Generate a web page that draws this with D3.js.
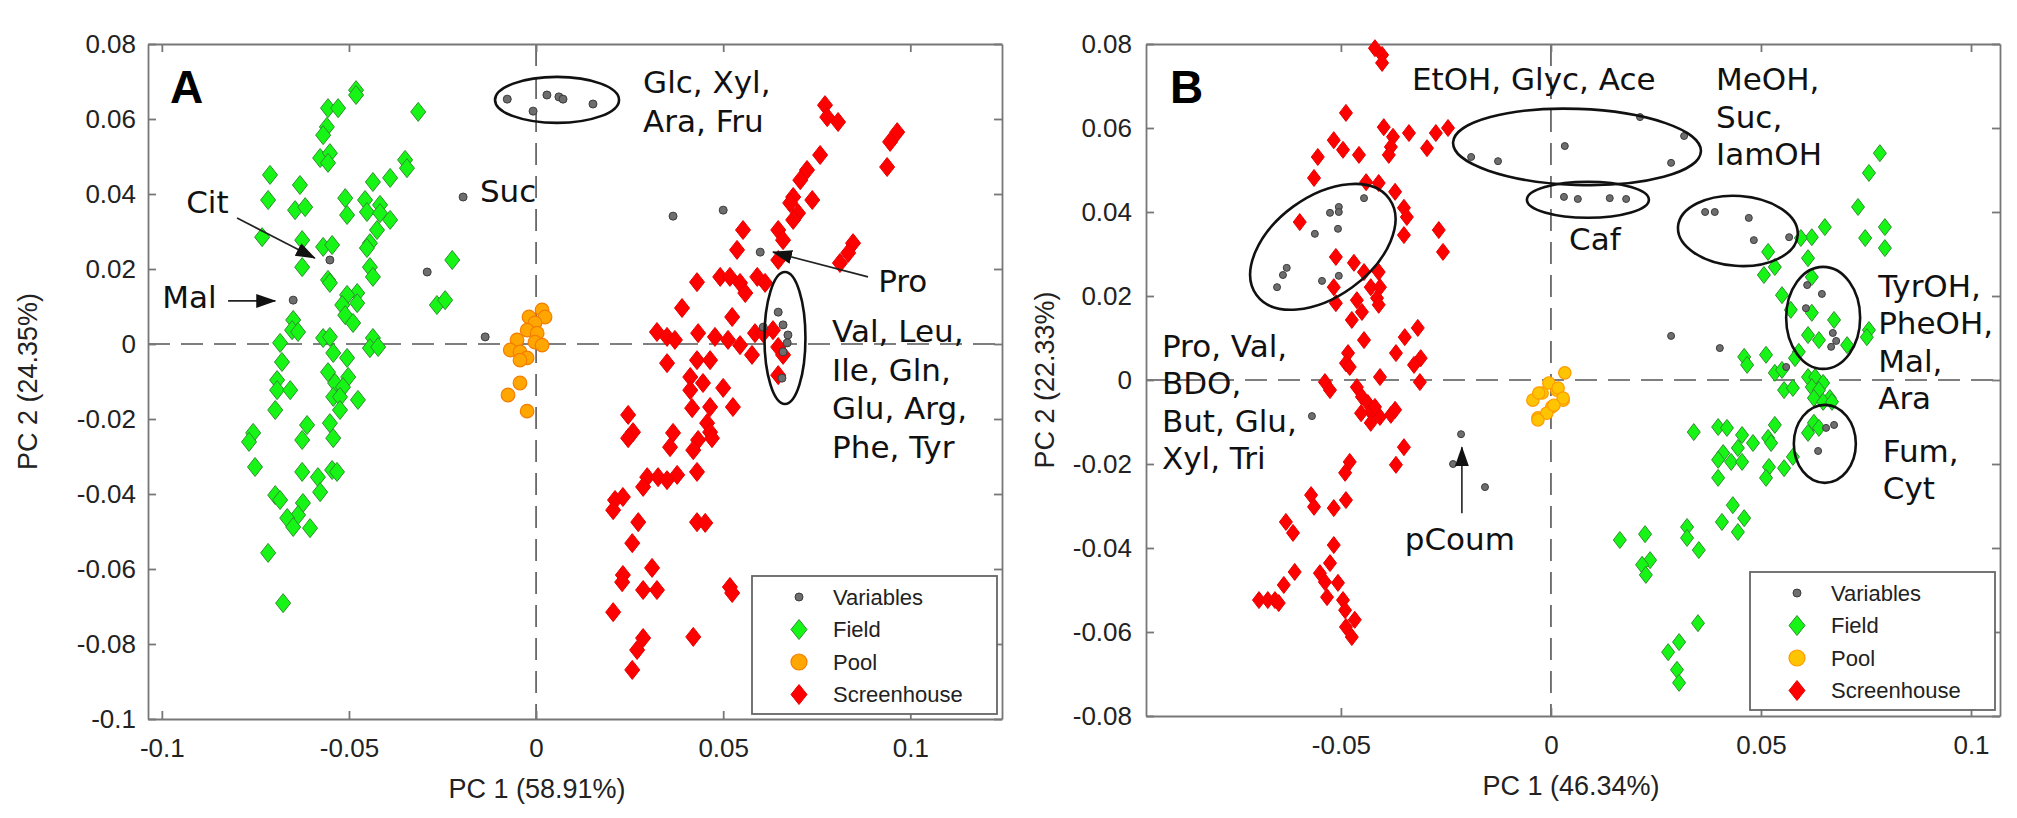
<!DOCTYPE html>
<html lang="en">
<head>
	<meta charset="UTF-8">
	<title>PCA score/loading plots</title>
	<script src="https://cdn.jsdelivr.net/npm/d3@7/dist/d3.min.js"></script>
	<style>
		body {
			margin: 0;
			background: #fff;
		}
		svg {
			display: block;
			width: 2017px;
			height: 818px;
		}
	</style>
</head>
<body>
<svg></svg>
<script>
	// ---- panel A data (PC1, PC2) ----
	var aVariables = [[-0.0551,0.0224],[-0.0649,0.0117],[-0.0291,0.0192],[-0.0195,0.0392],[-0.0136,0.0019],[-0.0077,0.0653],[-0.0008,0.0621],[0.0029,0.0664],[0.0061,0.0659],[0.0072,0.0653],[0.0152,0.0640],[0.0366,0.0341],[0.0500,0.0357],[0.0599,0.0245],[0.0647,0.0085],[0.0660,0.0051],[0.0673,0.0024],[0.0671,0.0003],[0.0607,0.0045],[0.0657,-0.0091],[0.0660,-0.0021]];
	var aField = [[-0.0481,0.0677],[-0.0481,0.0664],[-0.0556,0.0629],[-0.0529,0.0629],[-0.0315,0.0619],[-0.0559,0.0579],[-0.0569,0.0557],[-0.0577,0.0496],[-0.0551,0.0509],[-0.0556,0.0483],[-0.0711,0.0451],[-0.0350,0.0491],[-0.0345,0.0469],[-0.0631,0.0424],[-0.0390,0.0443],[-0.0436,0.0432],[-0.0716,0.0384],[-0.0644,0.0357],[-0.0617,0.0365],[-0.0510,0.0389],[-0.0505,0.0344],[-0.0457,0.0384],[-0.0452,0.0352],[-0.0417,0.0371],[-0.0417,0.0349],[-0.0390,0.0331],[-0.0732,0.0285],[-0.0625,0.0277],[-0.0569,0.0259],[-0.0545,0.0264],[-0.0425,0.0304],[-0.0444,0.0269],[-0.0452,0.0256],[-0.0625,0.0205],[-0.0444,0.0205],[-0.0436,0.0179],[-0.0224,0.0224],[-0.0556,0.0171],[-0.0551,0.0163],[-0.0265,0.0104],[-0.0243,0.0117],[-0.0478,0.0136],[-0.0505,0.0131],[-0.0518,0.0104],[-0.0478,0.0109],[-0.0510,0.0077],[-0.0489,0.0056],[-0.0649,0.0064],[-0.0652,0.0037],[-0.0636,0.0032],[-0.0569,0.0016],[-0.0551,0.0019],[-0.0436,0.0016],[-0.0444,-0.0011],[-0.0422,-0.0008],[-0.0684,0.0003],[-0.0542,-0.0024],[-0.0505,-0.0037],[-0.0679,-0.0048],[-0.0556,-0.0075],[-0.0502,-0.0088],[-0.0537,-0.0104],[-0.0516,-0.0115],[-0.0542,-0.0141],[-0.0524,-0.0141],[-0.0692,-0.0096],[-0.0692,-0.0123],[-0.0657,-0.0123],[-0.0476,-0.0149],[-0.0697,-0.0176],[-0.0524,-0.0176],[-0.0756,-0.0237],[-0.0767,-0.0261],[-0.0612,-0.0216],[-0.0625,-0.0256],[-0.0551,-0.0211],[-0.0542,-0.0251],[-0.0751,-0.0328],[-0.0625,-0.0341],[-0.0583,-0.0355],[-0.0577,-0.0395],[-0.0545,-0.0336],[-0.0532,-0.0341],[-0.0697,-0.0403],[-0.0684,-0.0416],[-0.0623,-0.0424],[-0.0636,-0.0456],[-0.0665,-0.0464],[-0.0649,-0.0488],[-0.0604,-0.0491],[-0.0716,-0.0557],[-0.0676,-0.0691]];
	var aPool = [[0.0016,0.0091],[-0.0019,0.0072],[0.0024,0.0072],[-0.0003,0.0056],[-0.0024,0.0037],[0.0003,0.0029],[-0.0051,0.0011],[-0.0003,0.0005],[0.0016,-0.0003],[-0.0069,-0.0016],[-0.0043,-0.0021],[-0.0024,-0.0037],[-0.0043,-0.0043],[-0.0043,-0.0104],[-0.0075,-0.0136],[-0.0024,-0.0179]];
	var aScreenhouse = [[0.0772,0.0637],[0.0778,0.0605],[0.0807,0.0592],[0.0965,0.0565],[0.0946,0.0539],[0.0938,0.0472],[0.0759,0.0504],[0.0724,0.0464],[0.0706,0.0437],[0.0687,0.0392],[0.0679,0.0376],[0.0738,0.0384],[0.0700,0.0349],[0.0687,0.0331],[0.0647,0.0304],[0.0660,0.0277],[0.0647,0.0224],[0.0553,0.0304],[0.0537,0.0251],[0.0847,0.0269],[0.0834,0.0243],[0.0812,0.0216],[0.0430,0.0165],[0.0492,0.0179],[0.0518,0.0179],[0.0545,0.0163],[0.0591,0.0179],[0.0612,0.0163],[0.0559,0.0136],[0.0390,0.0096],[0.0524,0.0072],[0.0323,0.0032],[0.0350,0.0019],[0.0371,0.0011],[0.0433,0.0029],[0.0478,0.0019],[0.0513,0.0011],[0.0545,-0.0003],[0.0585,0.0029],[0.0607,0.0029],[0.0647,-0.0008],[0.0660,-0.0029],[0.0577,-0.0029],[0.0633,0.0037],[0.0350,-0.0051],[0.0430,-0.0043],[0.0465,-0.0043],[0.0647,-0.0083],[0.0412,-0.0088],[0.0446,-0.0104],[0.0412,-0.0123],[0.0500,-0.0117],[0.0246,-0.0189],[0.0417,-0.0171],[0.0465,-0.0168],[0.0526,-0.0168],[0.0259,-0.0235],[0.0246,-0.0251],[0.0457,-0.0211],[0.0465,-0.0235],[0.0433,-0.0256],[0.0420,-0.0283],[0.0470,-0.0251],[0.0366,-0.0237],[0.0358,-0.0275],[0.0430,-0.0341],[0.0297,-0.0355],[0.0326,-0.0355],[0.0350,-0.0363],[0.0377,-0.0349],[0.0286,-0.0381],[0.0211,-0.0416],[0.0232,-0.0408],[0.0206,-0.0443],[0.0273,-0.0475],[0.0430,-0.0475],[0.0452,-0.0477],[0.0257,-0.0531],[0.0232,-0.0616],[0.0230,-0.0635],[0.0310,-0.0597],[0.0286,-0.0656],[0.0323,-0.0656],[0.0518,-0.0648],[0.0524,-0.0664],[0.0206,-0.0715],[0.0286,-0.0784],[0.0270,-0.0816],[0.0257,-0.0869],[0.0420,-0.0781]];

	// ---- panel B data (PC1, PC2) ----
	var bVariables = [[-0.0652,0.0221],[-0.0638,0.0250],[-0.0629,0.0267],[-0.0562,0.0348],[-0.0545,0.0236],[-0.0526,0.0398],[-0.0505,0.0412],[-0.0505,0.0400],[-0.0507,0.0360],[-0.0505,0.0248],[-0.0445,0.0433],[-0.0569,-0.0086],[-0.0214,-0.0129],[-0.0233,-0.0200],[-0.0157,-0.0255],[-0.0190,0.0531],[-0.0126,0.0521],[0.0033,0.0557],[0.0212,0.0626],[0.0317,0.0581],[0.0286,0.0517],[0.0031,0.0436],[0.0064,0.0431],[0.0140,0.0433],[0.0179,0.0431],[0.0367,0.0400],[0.0390,0.0400],[0.0471,0.0386],[0.0483,0.0333],[0.0567,0.0340],[0.0610,0.0226],[0.0645,0.0205],[0.0607,0.0171],[0.0671,0.0112],[0.0679,0.0093],[0.0667,0.0079],[0.0560,0.0031],[0.0286,0.0105],[0.0402,0.0076],[0.0674,-0.0107],[0.0655,-0.0114],[0.0636,-0.0169]];
	var bField = [[0.0783,0.0540],[0.0757,0.0493],[0.0731,0.0412],[0.0795,0.0364],[0.0748,0.0338],[0.0795,0.0314],[0.0652,0.0364],[0.0621,0.0340],[0.0595,0.0338],[0.0612,0.0290],[0.0517,0.0305],[0.0533,0.0269],[0.0507,0.0250],[0.0621,0.0245],[0.0550,0.0202],[0.0571,0.0167],[0.0621,0.0160],[0.0674,0.0143],[0.0757,0.0119],[0.0752,0.0102],[0.0612,0.0107],[0.0638,0.0095],[0.0705,0.0083],[0.0590,0.0067],[0.0581,0.0052],[0.0460,0.0055],[0.0467,0.0036],[0.0512,0.0060],[0.0533,0.0017],[0.0550,0.0024],[0.0612,0.0007],[0.0629,0.0007],[0.0648,-0.0007],[0.0621,-0.0017],[0.0638,-0.0024],[0.0664,-0.0043],[0.0626,-0.0043],[0.0555,-0.0024],[0.0576,-0.0019],[0.0648,-0.0052],[0.0669,-0.0052],[0.0626,-0.0102],[0.0638,-0.0114],[0.0612,-0.0126],[0.0533,-0.0107],[0.0517,-0.0138],[0.0524,-0.0150],[0.0481,-0.0150],[0.0455,-0.0131],[0.0398,-0.0112],[0.0419,-0.0114],[0.0340,-0.0124],[0.0410,-0.0174],[0.0445,-0.0162],[0.0398,-0.0190],[0.0429,-0.0195],[0.0455,-0.0195],[0.0519,-0.0207],[0.0555,-0.0210],[0.0576,-0.0183],[0.0512,-0.0233],[0.0398,-0.0233],[0.0433,-0.0298],[0.0407,-0.0338],[0.0460,-0.0329],[0.0445,-0.0362],[0.0324,-0.0350],[0.0324,-0.0376],[0.0352,-0.0405],[0.0164,-0.0381],[0.0224,-0.0367],[0.0236,-0.0429],[0.0217,-0.0440],[0.0226,-0.0464],[0.0350,-0.0579],[0.0305,-0.0624],[0.0279,-0.0648],[0.0300,-0.0690],[0.0305,-0.0721]];
	var bPool = [[-0.0021,-0.0031],[0.0014,-0.0024],[0.0029,-0.0048],[0.0002,-0.0064],[-0.0031,-0.0090],[-0.0010,-0.0079],[-0.0043,-0.0048],[0.0033,0.0017],[-0.0005,-0.0007],[0.0017,-0.0019],[-0.0029,-0.0031],[0.0029,-0.0043],[0.0007,-0.0060],[-0.0031,-0.0095]];
	var bScreenhouse = [[-0.0419,0.0790],[-0.0402,0.0774],[-0.0402,0.0755],[-0.0488,0.0636],[-0.0398,0.0602],[-0.0376,0.0579],[-0.0381,0.0555],[-0.0386,0.0536],[-0.0338,0.0588],[-0.0274,0.0588],[-0.0245,0.0600],[-0.0295,0.0552],[-0.0517,0.0571],[-0.0495,0.0548],[-0.0457,0.0536],[-0.0555,0.0531],[-0.0564,0.0481],[-0.0440,0.0471],[-0.0410,0.0469],[-0.0371,0.0448],[-0.0350,0.0410],[-0.0343,0.0388],[-0.0350,0.0345],[-0.0598,0.0376],[-0.0267,0.0357],[-0.0257,0.0305],[-0.0512,0.0293],[-0.0469,0.0279],[-0.0445,0.0257],[-0.0410,0.0257],[-0.0429,0.0221],[-0.0407,0.0221],[-0.0414,0.0195],[-0.0410,0.0179],[-0.0517,0.0221],[-0.0512,0.0183],[-0.0462,0.0190],[-0.0450,0.0162],[-0.0474,0.0143],[-0.0445,0.0095],[-0.0317,0.0124],[-0.0348,0.0102],[-0.0369,0.0064],[-0.0310,0.0052],[-0.0326,0.0036],[-0.0312,-0.0005],[-0.0483,0.0064],[-0.0488,0.0040],[-0.0479,0.0031],[-0.0407,0.0007],[-0.0538,-0.0005],[-0.0526,-0.0024],[-0.0462,-0.0017],[-0.0450,-0.0040],[-0.0436,-0.0055],[-0.0429,-0.0076],[-0.0452,-0.0079],[-0.0419,-0.0064],[-0.0429,-0.0102],[-0.0407,-0.0088],[-0.0381,-0.0083],[-0.0371,-0.0071],[-0.0350,-0.0160],[-0.0369,-0.0202],[-0.0479,-0.0195],[-0.0490,-0.0221],[-0.0571,-0.0274],[-0.0564,-0.0302],[-0.0517,-0.0305],[-0.0488,-0.0286],[-0.0631,-0.0338],[-0.0614,-0.0364],[-0.0517,-0.0393],[-0.0526,-0.0436],[-0.0550,-0.0460],[-0.0538,-0.0481],[-0.0533,-0.0517],[-0.0507,-0.0483],[-0.0495,-0.0524],[-0.0490,-0.0548],[-0.0467,-0.0571],[-0.0488,-0.0588],[-0.0474,-0.0612],[-0.0610,-0.0457],[-0.0636,-0.0488],[-0.0695,-0.0524],[-0.0674,-0.0524],[-0.0657,-0.0524],[-0.0648,-0.0531]];

	// ---- ticks, titles, legend ----
	var aXTicks = [-0.1, -0.05, 0, 0.05, 0.1];
	var aYTicks = [-0.1, -0.08, -0.06, -0.04, -0.02, 0, 0.02, 0.04, 0.06, 0.08];
	var bXTicks = [-0.05, 0, 0.05, 0.1];
	var bYTicks = [-0.08, -0.06, -0.04, -0.02, 0, 0.02, 0.04, 0.06, 0.08];
	var aXTitle = "PC 1 (58.91%)", aYTitle = "PC 2 (24.35%)";
	var bXTitle = "PC 1 (46.34%)", bYTitle = "PC 2 (22.33%)";
	var legendNames = ["Variables", "Field", "Pool", "Screenhouse"];

	// ---- annotations: anchor in data units, text lines ----
	var aLabels = [
		{at: [0.0286, 0.0669], lines: ["Glc, Xyl,", "Ara, Fru"]},
		{at: [-0.0150, 0.0379], lines: ["Suc"]},
		{at: [-0.0935, 0.0349], lines: ["Cit"]},
		{at: [-0.0999, 0.0096], lines: ["Mal"]},
		{at: [0.0914, 0.0139], lines: ["Pro"]},
		{at: [0.0791, 0.0005], lines: ["Val, Leu,", "Ile, Gln,", "Glu, Arg,", "Phe, Tyr"]}
	];
	var aCircles = [[0.0056, 0.0651], [0.0665, 0.0016]];
	var aArrows = [[[-0.0799, 0.0336], [-0.0591, 0.0229]], [[-0.0823, 0.0115], [-0.0697, 0.0115]], [[0.0887, 0.0179], [0.0633, 0.0245]]];

	var bLabels = [
		{at: [-0.0331, 0.0690], lines: ["EtOH, Glyc, Ace"]},
		{at: [0.0393, 0.0690], lines: ["MeOH,", "Suc,", "IamOH"]},
		{at: [0.0043, 0.0310], lines: ["Caf"]},
		{at: [-0.0926, 0.0055], lines: ["Pro, Val,", "BDO,", "But, Glu,", "Xyl, Tri"]},
		{at: [-0.0217, -0.0405], lines: ["pCoum"], mid: true},
		{at: [0.0779, 0.0198], lines: ["TyrOH,", "PheOH,", "Mal,", "Ara"]},
		{at: [0.0790, -0.0195], lines: ["Fum,", "Cyt"]}
	];
	var bCircles = [[-0.0543, 0.0317], [0.0062, 0.0555], [0.0088, 0.0429], [0.0445, 0.0355], [0.0648, 0.0148], [0.0652, -0.0152]];
	var bArrows = [[[-0.0212, -0.0317], [-0.0212, -0.0160]]];

	var svg = d3.select("svg");
	var defs = svg.append("defs");
	defs.append("marker").attr("id", "head")
		.attr("markerUnits", "userSpaceOnUse")
		.attr("markerWidth", 20).attr("markerHeight", 16)
		.attr("refX", 19).attr("refY", 8).attr("orient", "auto")
		.append("path").attr("d", "M0,1L20,8L0,15Z").attr("fill", "#111");

	function diamond(w, h) {
		return "M0," + (-h) + "L" + w + ",0L0," + h + "L" + (-w) + ",0Z";
	}
	function fmt(d) {
		return d === 0 ? "0" : String(+d.toFixed(2));
	}

	var sans = "'Liberation Sans', Arial, sans-serif";
	var verd = "'DejaVu Sans', Verdana, sans-serif";

	function drawPanel(p) {
		var x = d3.scaleLinear().domain(p.xDomain).range([p.left, p.right]);
		var y = d3.scaleLinear().domain(p.yDomain).range([p.bottom, p.top]);
		var g = svg.append("g");

		// dashed zero lines
		g.append("line").attr("x1", x(0)).attr("x2", x(0)).attr("y1", p.top).attr("y2", p.bottom)
			.attr("stroke", "#555").attr("stroke-width", 1.6).attr("stroke-dasharray", "22,11");
		g.append("line").attr("x1", p.left).attr("x2", p.right).attr("y1", y(0)).attr("y2", y(0))
			.attr("stroke", "#555").attr("stroke-width", 1.6).attr("stroke-dasharray", "22,11");

		// axes, ticks inward on all four sides
		var axes = [
			[d3.axisBottom(x).tickValues(p.xTicks).tickPadding(20).tickFormat(fmt), "translate(0," + p.bottom + ")"],
			[d3.axisTop(x).tickValues(p.xTicks).tickFormat(""), "translate(0," + p.top + ")"],
			[d3.axisLeft(y).tickValues(p.yTicks).tickPadding(p.yPad).tickFormat(fmt), "translate(" + p.left + ",0)"],
			[d3.axisRight(y).tickValues(p.yTicks).tickFormat(""), "translate(" + p.right + ",0)"]
		];
		axes.forEach(function(a) {
			var ax = g.append("g").attr("transform", a[1])
				.call(a[0].tickSize(-8).tickSizeOuter(0));
			ax.attr("font-size", 26).attr("font-family", sans);
			ax.selectAll("path, line").attr("stroke", "#777").attr("stroke-width", 1.8);
			ax.selectAll("text").attr("fill", "#222");
		});

		// axis titles
		g.append("text").attr("x", p.xTitleX).attr("y", p.bottom + 79)
			.attr("text-anchor", "middle").attr("font-size", 27).attr("font-family", sans).attr("fill", "#222")
			.text(p.xTitle);
		g.append("text").attr("transform", "translate(" + p.yTitleX + "," + ((p.top + p.bottom) / 2) + ") rotate(-90)")
			.attr("text-anchor", "middle").attr("font-size", 27).attr("font-family", sans).attr("fill", "#222")
			.text(p.yTitle);

		// points: field, pool, screenhouse, variables
		g.append("g").selectAll("path").data(p.field).enter().append("path")
			.attr("d", diamond(p.dw, p.dh))
			.attr("transform", function(d) { return "translate(" + x(d[0]) + "," + y(d[1]) + ")"; })
			.attr("fill", "#16f516").attr("stroke", "#2f8f2f").attr("stroke-width", 1);
		g.append("g").selectAll("circle").data(p.pool).enter().append("circle")
			.attr("cx", function(d) { return x(d[0]); })
			.attr("cy", function(d) { return y(d[1]); })
			.attr("r", p.pr)
			.attr("fill", p.poolFill).attr("stroke", p.poolStroke).attr("stroke-width", 1.2);
		g.append("g").selectAll("path").data(p.screen).enter().append("path")
			.attr("d", diamond(p.dw, p.dh))
			.attr("transform", function(d) { return "translate(" + x(d[0]) + "," + y(d[1]) + ")"; })
			.attr("fill", "#ff0000").attr("stroke", "#e80000").attr("stroke-width", 1);
		g.append("g").selectAll("circle").data(p.vars).enter().append("circle")
			.attr("cx", function(d) { return x(d[0]); })
			.attr("cy", function(d) { return y(d[1]); })
			.attr("r", p.vr)
			.attr("fill", "#6e6e6e").attr("stroke", "#3c3c3c").attr("stroke-width", 1);

		// ellipses around groups of variables
		g.append("g").selectAll("ellipse").data(p.circles).enter().append("ellipse")
			.attr("rx", function(d, i) { return p.ell[i][0]; })
			.attr("ry", function(d, i) { return p.ell[i][1]; })
			.attr("transform", function(d, i) { return "translate(" + x(d[0]) + "," + y(d[1]) + ") rotate(" + p.ell[i][2] + ")"; })
			.attr("fill", "none").attr("stroke", "#111").attr("stroke-width", 2.6);

		// arrows
		g.append("g").selectAll("line").data(p.arrows).enter().append("line")
			.attr("x1", function(d) { return x(d[0][0]); })
			.attr("y1", function(d) { return y(d[0][1]); })
			.attr("x2", function(d) { return x(d[1][0]); })
			.attr("y2", function(d) { return y(d[1][1]); })
			.attr("stroke", "#222").attr("stroke-width", 1.6).attr("marker-end", "url(#head)");

		// labels
		p.labels.forEach(function(l) {
			var t = g.append("text").attr("font-size", 31).attr("font-family", verd).attr("fill", "#111")
				.attr("text-anchor", l.mid ? "middle" : "start");
			l.lines.forEach(function(s, i) {
				t.append("tspan").attr("x", x(l.at[0])).attr("y", y(l.at[1]) + i * p.lineH).text(s);
			});
		});

		// panel letter
		g.append("text").attr("x", p.left + p.letterDx).attr("y", p.top + 59)
			.attr("font-size", 46).attr("font-weight", "bold").attr("font-family", sans)
			.text(p.letter);

		// legend
		var lg = g.append("g").attr("transform", "translate(" + p.legend[0] + "," + p.legend[1] + ")");
		lg.append("rect").attr("width", 245).attr("height", 138)
			.attr("fill", "#fff").attr("stroke", "#666").attr("stroke-width", 1.8);
		var rows = lg.selectAll("g").data(legendNames).enter().append("g")
			.attr("transform", function(d, i) { return "translate(47," + (21 + i * 32.5) + ")"; });
		rows.each(function(d, i) {
			var r = d3.select(this);
			if (i === 0) r.append("circle").attr("r", 4).attr("fill", "#6e6e6e").attr("stroke", "#3c3c3c");
			if (i === 1) r.append("path").attr("d", diamond(8, 10)).attr("fill", "#16f516").attr("stroke", "#2f8f2f");
			if (i === 2) r.append("circle").attr("r", 8).attr("fill", p.poolFill).attr("stroke", p.poolStroke).attr("stroke-width", 1.2);
			if (i === 3) r.append("path").attr("d", diamond(8, 10)).attr("fill", "#ff0000").attr("stroke", "#e80000");
		});
		rows.append("text").attr("x", 34).attr("dy", "0.36em")
			.attr("font-size", 22).attr("font-family", sans).attr("fill", "#222")
			.text(function(d) { return d; });
	}

	drawPanel({
		left: 148, right: 1002, top: 44, bottom: 719,
		xDomain: [-0.1037, 0.1245], yDomain: [-0.1, 0.08],
		xTicks: aXTicks, yTicks: aYTicks, yPad: 12,
		xTitle: aXTitle, yTitle: aYTitle, xTitleX: 537, yTitleX: 37,
		field: aField, pool: aPool, screen: aScreenhouse, vars: aVariables,
		dw: 7.5, dh: 9.5, pr: 6.8, vr: 4,
		poolFill: "#ffa600", poolStroke: "#f47c00",
		circles: aCircles, ell: [[62, 23, 0], [20.5, 66, 0]],
		arrows: aArrows, labels: aLabels, lineH: 38.5,
		letter: "A", letterDx: 22, legend: [752, 576]
	});

	drawPanel({
		left: 1146, right: 2000, top: 44, bottom: 716,
		xDomain: [-0.0964, 0.1069], yDomain: [-0.08, 0.08],
		xTicks: bXTicks, yTicks: bYTicks, yPad: 14,
		xTitle: bXTitle, yTitle: bYTitle, xTitleX: 1571, yTitleX: 1054,
		field: bField, pool: bPool, screen: bScreenhouse, vars: bVariables,
		dw: 6.5, dh: 8.5, pr: 6.2, vr: 3.5,
		poolFill: "#ffc400", poolStroke: "#ff9a00",
		circles: bCircles, ell: [[82, 50, -36], [124, 38, 2], [61, 18, 0], [60, 35, 4], [37, 51, 0], [31, 39, 0]],
		arrows: bArrows, labels: bLabels, lineH: 37.5,
		letter: "B", letterDx: 24, legend: [1750, 572]
	});
</script>
</body>
</html>
